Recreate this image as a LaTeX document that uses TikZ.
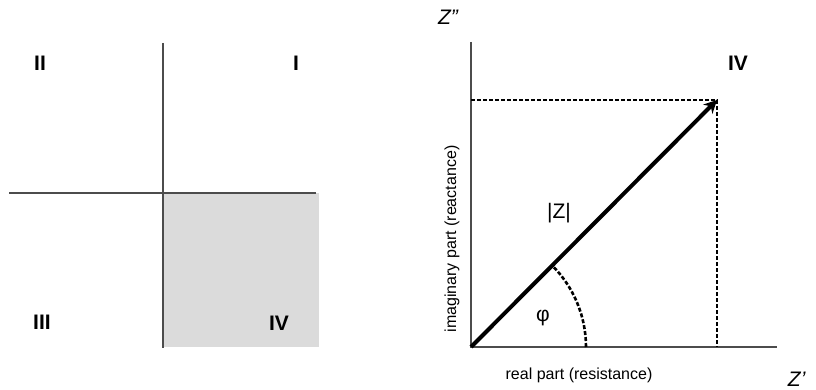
\documentclass[tikz,border=0pt]{standalone}
\usepackage{fontspec}
\setmainfont{Liberation Sans}
\usetikzlibrary{positioning,arrows.meta}

\begin{document}
\begin{tikzpicture}[x=1pt,y=-1pt,>=Stealth,node distance=10pt and 10pt,
   every node/.style={font=\fontsize{16}{18}\selectfont},
   quad/.style={font=\fontsize{21}{23}\selectfont\bfseries},
   big/.style={font=\fontsize{21}{23}\selectfont},
   axis/.style={line width=2.4pt,draw=black!70},
   guide/.style={line width=2.6pt,dash pattern=on 4pt off 2pt}]
  \useasboundingbox (0,0) rectangle (816,390);
  % quadrants
  \fill[black!14] (163,193) rectangle (319,347);
  \coordinate (c) at (163,193);
  \coordinate (l) at (9,193);
  \coordinate (r) at (316,193);
  \coordinate (t) at (163,43);
  \coordinate (b) at (163,348);
  \draw[axis] (l) -- (r);
  \draw[axis] (t) -- (b);
  \node[quad] (q1) at (296,63) {I};
  \node[quad] (q2) at (40,63) {II};
  \node[quad] (q3) at (42,322) {III};
  \node[quad] (q4) at (279,323) {IV};
  % impedance vector
  \coordinate (O) at (471,347);
  \coordinate (ytop) at (471,42);
  \coordinate (xend) at (777,347);
  \coordinate (P) at (717,100);
  \draw[axis] (ytop) -- (O) -- (xend);
  \draw[guide] (O |- P) -- (P) -- (P |- O);
  \draw[-{Stealth[length=13pt,width=13pt]},line width=4pt] (O) -- (P);
  \draw[guide] ([xshift=115pt]O) arc[start angle=0,end angle=-45,radius=115];
  \node[big] (zim) at (448,17) {\itshape Z"};
  \node[big,anchor=east] (zre) at (809,379) {\itshape Z'};
  \node[quad] (q4r) at (738,63) {IV};
  \node[big] (mag) at (559,213) {|Z|};
  \node[big] (phi) at (543,318) {φ};
  \node (re) at (579,375) {real part (resistance)};
  \node[rotate=90] (im) at (452,239) {imaginary part (reactance)};
\end{tikzpicture}
\end{document}
